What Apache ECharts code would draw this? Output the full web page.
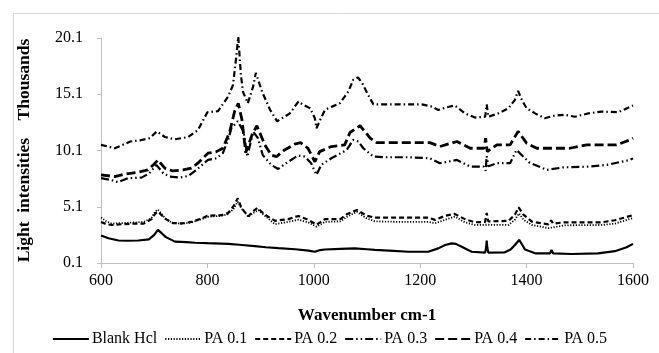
<!DOCTYPE html>
<html>
<head>
<meta charset="utf-8">
<script src="https://cdn.jsdelivr.net/npm/echarts@6/dist/echarts.min.js"></script>
<style>
  html, body { margin: 0; padding: 0; background: #fff; }
  #chart { width: 659px; height: 353px; }
</style>
</head>
<body>
<div id="chart"></div>
<script>
// Spectra: [wavenumber, intensity (thousands)]
const seriesNames = ["Blank Hcl", "PA 0.1", "PA 0.2", "PA 0.3", "PA 0.4", "PA 0.5"];

const blankHcl = [
  [600, 2.55], [614, 2.3], [633, 2.1], [650, 2.08], [670, 2.1], [690, 2.2], [700, 2.6], [707, 3.05],
  [714, 2.75], [722, 2.4], [739, 2.0], [760, 1.95], [777, 1.9], [800, 1.86], [839, 1.8], [860, 1.72],
  [889, 1.6], [910, 1.5], [933, 1.42], [965, 1.32], [990, 1.2], [1002, 1.1], [1012, 1.25], [1021, 1.3],
  [1050, 1.36], [1077, 1.4], [1100, 1.32], [1115, 1.26], [1150, 1.18], [1178, 1.1], [1215, 1.1],
  [1234, 1.4], [1247, 1.7], [1259, 1.85], [1267, 1.8], [1278, 1.55], [1290, 1.25], [1297, 1.1],
  [1322, 1.02], [1324, 1.5], [1325, 2.1], [1326, 1.5], [1328, 1.02], [1359, 1.05], [1370, 1.3],
  [1378, 1.7], [1386, 2.15], [1392, 1.7], [1397, 1.3], [1416, 0.96], [1444, 0.95], [1447, 1.25],
  [1450, 0.95], [1485, 0.9], [1534, 0.96], [1566, 1.15], [1588, 1.5], [1600, 1.8]
];

const pa01 = [
  [600, 4.15], [610, 3.8], [620, 3.6], [640, 3.65], [660, 3.7], [680, 3.75], [695, 4.1], [702, 4.7],
  [707, 4.85], [715, 4.4], [722, 4.0], [735, 3.65], [752, 3.6], [770, 3.7], [789, 4.0], [800, 4.2],
  [827, 4.3], [839, 4.45], [849, 4.9], [857, 5.55], [864, 4.95], [877, 4.2], [886, 4.55], [896, 4.8],
  [908, 4.3], [927, 3.55], [952, 3.75], [971, 3.95], [990, 3.7], [1005, 3.33], [1021, 3.75],
  [1050, 3.8], [1062, 4.2], [1081, 4.65], [1099, 4.08], [1115, 3.8], [1170, 3.75], [1215, 3.75],
  [1228, 3.63], [1247, 3.95], [1265, 4.22], [1284, 3.72], [1303, 3.48], [1325, 3.5], [1366, 3.48],
  [1378, 3.95], [1386, 4.5], [1394, 3.95], [1410, 3.48], [1441, 3.2], [1472, 3.45], [1541, 3.48],
  [1566, 3.6], [1600, 4.1]
];

const pa02 = [
  [600, 3.75], [610, 3.55], [620, 3.48], [640, 3.55], [660, 3.6], [680, 3.6], [695, 4.0], [702, 4.5],
  [707, 4.66], [715, 4.3], [722, 4.0], [735, 3.65], [752, 3.62], [770, 3.75], [789, 4.05], [800, 4.3],
  [827, 4.35], [839, 4.55], [849, 5.15], [857, 5.85], [864, 5.0], [877, 4.25], [886, 4.7], [894, 5.0],
  [908, 4.4], [927, 3.85], [952, 4.0], [971, 4.28], [990, 3.93], [1005, 3.5], [1021, 4.0], [1050, 4.0],
  [1062, 4.43], [1081, 4.82], [1099, 4.31], [1115, 4.13], [1170, 4.13], [1215, 4.13], [1228, 3.93],
  [1247, 4.3], [1265, 4.46], [1284, 4.0], [1303, 3.72], [1322, 3.75], [1325, 4.55], [1328, 3.8],
  [1366, 3.84], [1378, 4.4], [1385, 5.05], [1394, 4.4], [1410, 3.77], [1441, 3.54], [1446, 3.9],
  [1450, 3.6], [1472, 3.72], [1541, 3.72], [1566, 3.9], [1600, 4.35]
];

const pa03 = [
  [600, 7.64], [619, 7.48], [632, 7.28], [651, 7.64], [676, 7.69], [691, 8.08], [704, 8.82], [717, 8.08],
  [729, 7.78], [748, 7.69], [764, 7.84], [779, 8.37], [801, 9.26], [817, 9.41], [829, 9.86], [839, 11.04],
  [845, 12.08], [857, 12.7], [868, 11.78], [875, 9.56], [886, 11.78], [895, 11.2], [904, 9.7], [920, 8.82],
  [933, 8.46], [948, 8.97], [970, 9.65], [983, 9.56], [995, 8.97], [1005, 7.93], [1014, 8.82],
  [1033, 9.41], [1062, 10.15], [1074, 11.04], [1084, 10.9], [1093, 10.3], [1112, 9.56], [1131, 9.5],
  [1175, 9.5], [1218, 9.41], [1237, 8.97], [1269, 9.26], [1294, 8.67], [1319, 8.67], [1323, 8.3],
  [1325, 9.6], [1328, 8.7], [1344, 8.97], [1369, 8.97], [1381, 10.15], [1406, 9.0], [1438, 8.38],
  [1469, 8.6], [1519, 8.67], [1551, 8.82], [1594, 9.26], [1600, 9.4]
];

const pa04 = [
  [600, 7.93], [626, 7.78], [644, 8.0], [670, 8.17], [688, 8.37], [700, 8.9], [707, 9.26], [720, 8.53],
  [735, 8.28], [754, 8.37], [770, 8.53], [782, 8.97], [801, 9.86], [817, 10.0], [829, 10.3], [842, 11.78],
  [851, 13.56], [858, 14.3], [865, 12.82], [872, 9.9], [884, 11.5], [893, 12.3], [908, 10.6], [920, 9.7],
  [930, 9.56], [945, 10.15], [964, 10.66], [975, 10.8], [989, 10.3], [1002, 9.1], [1011, 10.0],
  [1033, 10.45], [1058, 10.6], [1068, 11.7], [1087, 12.3], [1106, 11.2], [1118, 10.8], [1218, 10.8],
  [1237, 10.45], [1269, 10.9], [1294, 10.3], [1320, 10.3], [1323, 11.2], [1326, 10.0], [1344, 10.6],
  [1369, 10.6], [1384, 11.8], [1400, 10.75], [1419, 10.3], [1481, 10.3], [1513, 10.6], [1569, 10.6],
  [1594, 11.04], [1600, 11.2]
];

const pa05 = [
  [600, 10.6], [626, 10.3], [655, 10.9], [673, 11.0], [692, 11.2], [705, 11.8], [720, 11.3], [739, 11.1],
  [764, 11.3], [782, 11.9], [800, 13.5], [820, 13.6], [839, 14.9], [848, 15.9], [854, 18.3], [858, 20.2],
  [863, 16.8], [867, 15.3], [876, 14.3], [886, 15.8], [891, 17.0], [903, 15.3], [918, 13.7], [931, 12.7],
  [955, 13.4], [971, 14.45], [980, 14.16], [993, 13.86], [1002, 12.97], [1005, 12.08], [1012, 12.82],
  [1021, 13.71], [1034, 14.0], [1049, 14.3], [1065, 15.34], [1074, 16.38], [1083, 16.59], [1091, 16.09],
  [1102, 15.05], [1112, 14.2], [1165, 14.2], [1203, 14.2], [1222, 14.0], [1234, 13.7], [1247, 13.9],
  [1265, 14.1], [1284, 13.4], [1303, 13.03], [1322, 13.1], [1325, 14.2], [1328, 13.1], [1347, 13.4],
  [1366, 13.86], [1378, 14.6], [1384, 15.4], [1391, 14.6], [1400, 13.86], [1416, 13.4], [1434, 12.97],
  [1453, 13.2], [1472, 13.27], [1491, 13.1], [1516, 13.4], [1541, 13.56], [1572, 13.5], [1600, 14.1]
];

const seriesData = [blankHcl, pa01, pa02, pa03, pa04, pa05];

// Excel-like dash patterns: solid, dotted, dashed, long dash dot dot, long dash, dash dot
const dashes = [
  "solid",
  [1.2, 1.6],
  [5, 3],
  [8, 3, 1.5, 3, 1.5, 3],
  [9, 4],
  [6, 3, 1.5, 3],
];
const widths = [2.2, 1.8, 2.2, 2.2, 2.8, 2.2];

const FONT = "'Liberation Serif', 'Times New Roman', serif";
const AXIS_GRAY = "#bfbfbf";

const chart = echarts.init(document.getElementById("chart"), null, { renderer: "canvas" });

const option = {
  animation: false,
  backgroundColor: "#ffffff",
  textStyle: { fontFamily: FONT, color: "#000" },

  // light frame of the chart area (only top and left edges fall inside the picture)
  graphic: [
    {
      type: "rect",
      left: 11,
      top: 11,
      shape: { width: 700, height: 400 },
      style: { fill: "none", stroke: "#d9d9d9", lineWidth: 1 },
      silent: true,
    },
  ],

  grid: {
    left: 101,
    right: 26,
    top: 38,
    bottom: 90,
    containLabel: false,
  },

  legend: {
    data: seriesNames,
    bottom: 1,
    left: "center",
    itemWidth: 36,
    itemHeight: 10,
    itemGap: 7,
    itemStyle: { opacity: 0 },
    textStyle: { fontFamily: FONT, fontSize: 16, color: "#000", padding: [0, 0, 0, -2] },
  },

  xAxis: {
    type: "value",
    min: 600,
    max: 1600,
    interval: 200,
    name: "Wavenumber cm-1",
    nameLocation: "middle",
    nameGap: 44,
    nameTextStyle: { fontFamily: FONT, fontSize: 17, fontWeight: "bold", color: "#000" },
    axisLine: { lineStyle: { color: AXIS_GRAY, width: 1 } },
    axisTick: { show: true, length: 5, lineStyle: { color: AXIS_GRAY } },
    axisLabel: {
      fontFamily: FONT,
      fontSize: 16,
      color: "#000",
      margin: 10,
      formatter: (v) => String(v),
    },
    splitLine: { show: false },
  },

  yAxis: {
    type: "value",
    min: 0.1,
    max: 20.1,
    interval: 5,
    name: "Light  intensities    Thousands",
    nameLocation: "middle",
    nameRotate: 90,
    nameGap: 68,
    nameTextStyle: { fontFamily: FONT, fontSize: 17.5, fontWeight: "bold", color: "#000" },
    axisLine: { show: true, lineStyle: { color: AXIS_GRAY, width: 1 } },
    axisTick: { show: true, length: 4, lineStyle: { color: AXIS_GRAY } },
    axisLabel: {
      fontFamily: FONT,
      fontSize: 16,
      color: "#000",
      margin: 18,
      formatter: (v) => v.toFixed(1),
    },
    splitLine: { show: false },
  },

  series: seriesNames.map((name, i) => ({
    name,
    type: "line",
    data: seriesData[i],
    symbol: "none",
    smooth: false,
    lineStyle: { color: "#000", width: widths[i], type: dashes[i] },
    itemStyle: { color: "#000" },
    z: 2 + i,
  })),
};

chart.setOption(option);
</script>
</body>
</html>
